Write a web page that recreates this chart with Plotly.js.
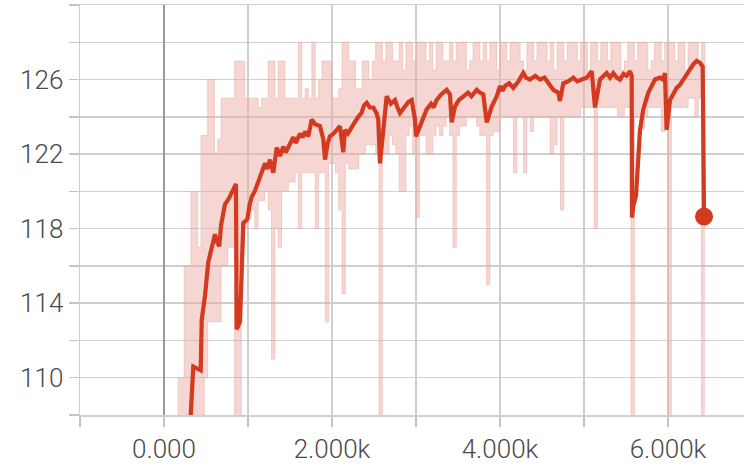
<!DOCTYPE html>
<html>
<head>
<meta charset="utf-8">
<script src="https://cdn.plot.ly/plotly-3.0.1.min.js"></script>
<style>html,body{margin:0;padding:0;background:#fff;}#chart{width:744px;height:466px;}</style>
</head>
<body>
<div id="chart"></div>
<script>
// Raw (unsmoothed) series, drawn as the band between its local high and local low
const rawSteps = [160,200,240,280,320,360,400,440,480,520,560,600,640,680,720,760,800,840,880,920,960,1000,
1040,1080,1120,1160,1200,1240,1280,1320,1360,1400,1440,1480,1520,1560,1600,1640,1680,1720,1760,1800,1840,1880,1920,1960,2000,
2040,2080,2120,2160,2200,2240,2280,2320,2360,2400,2440,2480,2520,2560,2600,2640,2680,2720,2760,2800,2840,2880,2920,2960,3000,
3040,3080,3120,3160,3200,3240,3280,3320,3360,3400,3440,3480,3520,3560,3600,3640,3680,3720,3760,3800,3840,3880,3920,3960,4000,
4040,4080,4120,4160,4200,4240,4280,4320,4360,4400,4440,4480,4520,4560,4600,4640,4680,4720,4760,4800,4840,4880,4920,4960,5000,
5040,5080,5120,5160,5200,5240,5280,5320,5360,5400,5440,5480,5520,5560,5600,5640,5680,5720,5760,5800,5840,5880,5920,5960,6000,
6040,6080,6120,6160,6200,6240,6280,6320,6360,6400,6440];
const rawHigh = [110,110,116,116,120,120,117,123,123,126,126,122,122.8,125,125,125,125,127,127,127,125,125,
125,125,124.5,125,125,127,127,125,127,127,125,125,125,125,128,125,125.5,125,128,125,126,127,127,127,125,
125,125.5,128,128,127,127,125.5,125.5,127,127,126,127,128,128,
127,128,128,127,127,128,126.5,128,128,127,
128,128,128,127,128,126.5,128,128,127,127,
128,127,128,128,128,126.5,127,128,128,127,
128,127,128,128,126.5,128,128,127,128,128,
128,127,126.5,128,128,127,128,128,128,127,
128,126.5,128,128,127,128,128,128,127,128,
128,126.5,128,128,127,128,128,127,128,128,
128,126.5,127,128,128,127,128,128,128,126.5,
127,128,128,127,128,128,128,127,128,128,
126.5,128,128,128,127,128,118];
const rawLow = [100,100,100,100,100,100,100,108,110,113,113,113,113,116,116,117,117,100,100,117,118,118.5,
119,118,119.5,119.5,120,119,111,118,117,120,120,120.5,120.5,121,118,121,121,121,121,118,121,121,113,121.5,121.5,
121,119,114.5,121.5,121.2,121.2,121.2,122,122,122.5,122.5,122.5,122,100,122,122,123,122.5,122,120,120,123,123.5,122,118.6,
123,123,122,122,123,123.5,123,123.5,124,123,117,123,123.5,123.5,124,124,124,123.5,123,123,115,123,123.2,123.2,124,
124,124,124,121,124,124,121,124,123.2,124,124,124,124,124,122,122.5,124,119,124,124,124,124,124,124.5,124.5,
124.5,124.5,118,124.5,124.5,124.5,124.5,124.5,124.5,124,124,124.5,124.5,100,124,124,123.3,124,124.5,124.5,124.5,124.5,123.2,124,100,
124.5,124.5,124.5,124.5,124.5,125,125,124,125,100,100];

// Smoothed series
const smoothSteps = [262,318,349,400,437,449,488,527,568,607,630,658,680,706,726,770,806,857,865,905,944,992,1020,1044,1080,1123,
1160,1202,1230,1262,1301,1342,1381,1420,1450,1500,1540,1570,1619,1650,1680,1718,1758,1800,1857,1896,1917,1950,1976,2020,2060,2095,
2134,2155,2190,2235,2270,2313,2350,2380,2413,2450,2492,2530,2551,2571,2619,2651,2700,2750,2780,2810,2869,2910,2949,2988,3000,3048,
3090,3127,3180,3210,3246,3300,3365,3405,3425,3464,3510,3563,3620,3660,3723,3760,3801,3842,3901,3961,4000,4030,4060,4110,4158,4220,
4277,4310,4357,4420,4476,4530,4575,4635,4694,4714,4754,4810,4873,4920,4973,5032,5092,5131,5190,5230,5270,5310,5349,5390,5429,5470,
5508,5548,5568,5571,5587,5619,5635,5667,5706,5766,5800,5845,5905,5940,5964,5984,6024,6060,6103,6140,6182,6220,6262,6300,6341,6381,
6413,6429];
const smoothValues = [106,108,110.6,110.5,110.4,113.1,114.4,116.2,117.05,117.7,117.3,117.05,118.2,118.7,119.3,119.6,119.9,120.4,112.6,113.0,118.3,118.5,119.3,119.7,120.0,120.5,
120.9,121.5,121.2,121.7,121.0,122.35,121.9,122.4,122.1,122.6,122.9,122.6,123.1,122.9,123.2,122.95,123.85,123.6,123.5,122.8,121.7,122.6,122.95,123.1,123.3,123.5,
122.1,123.3,123.1,123.5,123.7,124.0,124.2,124.6,124.75,124.5,124.5,124.2,123.85,121.5,123.5,125.1,124.7,124.9,124.5,124.2,124.55,124.8,124.9,123.85,122.95,123.5,
124.1,124.4,124.7,124.5,124.9,125.2,125.45,125.2,123.7,124.55,124.9,125.1,125.3,125.1,125.45,125.3,125.2,123.7,124.55,125.1,125.65,125.4,125.65,125.8,125.55,125.9,
126.35,126.1,126.0,126.2,126.0,126.1,125.8,125.45,125.3,124.85,125.8,125.9,126.1,125.9,126.0,126.1,126.45,124.5,126.0,126.2,126.35,126.1,126.35,126.1,126.0,126.3,
126.2,126.45,126.2,118.6,119.2,119.75,121.2,123.3,124.4,125.3,125.6,126.0,126.1,126.0,126.35,123.3,124.9,125.2,125.55,125.7,126.0,126.3,126.55,126.8,127.0,126.9,
126.7,118.65];

// Axis ticks
const xTickVals = [-1000,0,1000,2000,3000,4000,5000,6000];
const xTickText = ['','0.000','','2.000k','','4.000k','','6.000k'];
const yTickVals = [108,110,112,114,116,118,120,122,124,126,128,130];
const yTickText = ['','110','','114','','118','','122','','126','',''];

const lineColor = '#d33a1f';
const bandColor = 'rgba(235,170,160,0.48)';
const lastIdx = smoothSteps.length - 1;

const traces = [
  {
    x: rawSteps, y: rawLow, type: 'scatter', mode: 'lines',
    line: {color: bandColor, width: 1, shape: 'hv'},
    hoverinfo: 'skip', showlegend: false
  },
  {
    x: rawSteps, y: rawHigh, type: 'scatter', mode: 'lines',
    line: {color: bandColor, width: 1, shape: 'hv'},
    fill: 'tonexty', fillcolor: bandColor,
    hoverinfo: 'skip', showlegend: false
  },
  {
    x: smoothSteps, y: smoothValues, type: 'scatter', mode: 'lines',
    line: {color: lineColor, width: 4.2},
    showlegend: false
  },
  {
    x: [smoothSteps[lastIdx]], y: [smoothValues[lastIdx]], type: 'scatter', mode: 'markers',
    marker: {color: lineColor, size: 18},
    showlegend: false
  }
];

const tickFont = {family: 'Roboto, "Liberation Sans", sans-serif', size: 26, color: '#4a4a4a', weight: 300};

const layout = {
  width: 744, height: 466,
  margin: {l: 80, r: 0, t: 5, b: 51},
  paper_bgcolor: '#fff', plot_bgcolor: '#fff',
  xaxis: {
    range: [-1000, 6905], tickmode: 'array', tickvals: xTickVals, ticktext: xTickText,
    showgrid: true, gridcolor: '#cfcfcf', gridwidth: 1.5,
    zeroline: true, zerolinecolor: '#9a9a9a', zerolinewidth: 2.5,
    showline: true, linecolor: '#cfcfcf', linewidth: 1.5, mirror: true,
    ticks: 'outside', ticklen: 10, tickwidth: 1.5, tickcolor: '#c4c4c4',
    tickfont: tickFont, fixedrange: true
  },
  yaxis: {
    range: [108, 130], tickmode: 'array', tickvals: yTickVals, ticktext: yTickText,
    showgrid: true, gridcolor: '#cfcfcf', gridwidth: 1.5,
    zeroline: false,
    showline: true, linecolor: '#cfcfcf', linewidth: 1.5,
    ticks: 'outside', ticklen: 10, tickwidth: 1.5, tickcolor: '#c4c4c4',
    tickfont: tickFont, fixedrange: true
  },
  showlegend: false
};

Plotly.newPlot('chart', traces, layout, {displayModeBar: false, staticPlot: true});
</script>
</body>
</html>
